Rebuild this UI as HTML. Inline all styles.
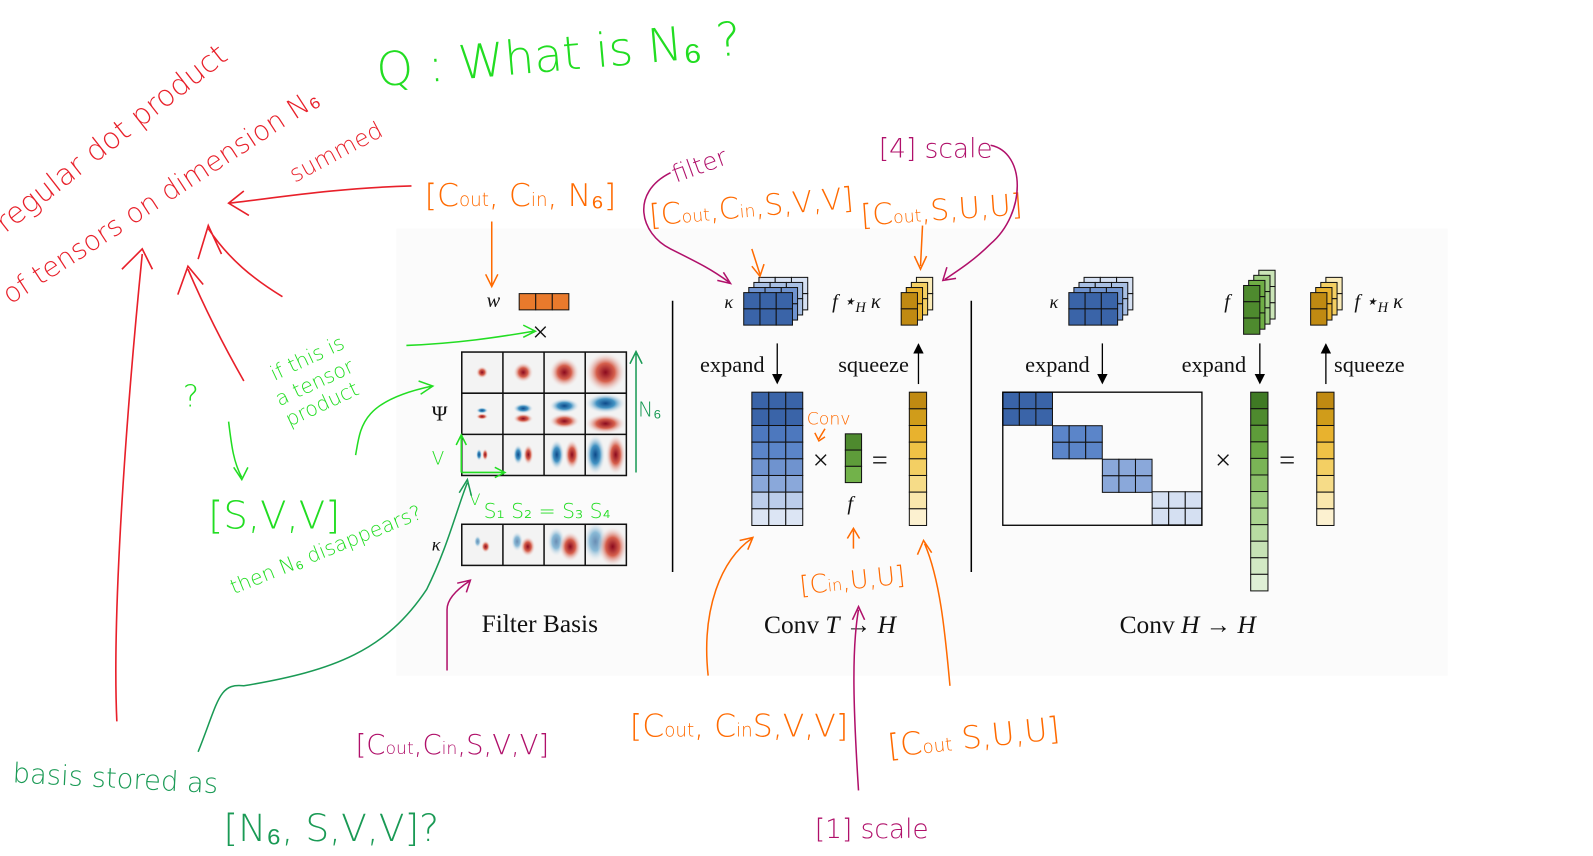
<!DOCTYPE html>
<html><head><meta charset="utf-8"><style>
html,body{margin:0;padding:0;background:#fff;width:1593px;height:856px;overflow:hidden}
svg{display:block}
.hw{font-family:"DejaVu Sans",sans-serif;font-weight:300}
.ser{font-family:"Liberation Serif",serif;fill:#111}
</style></head><body>
<svg id="s" width="1593" height="856" viewBox="0 0 1593 856" xmlns="http://www.w3.org/2000/svg">
<defs>
<radialGradient id="rd"><stop offset="0" stop-color="#8b0a1e"/><stop offset="0.45" stop-color="#d6604d"/><stop offset="1" stop-color="#f4f4f4" stop-opacity="0"/></radialGradient>
<radialGradient id="bl"><stop offset="0" stop-color="#0d4a8a"/><stop offset="0.45" stop-color="#4393c3"/><stop offset="1" stop-color="#f4f4f4" stop-opacity="0"/></radialGradient>
<marker id="ah" markerWidth="8" markerHeight="8" refX="7" refY="4" orient="auto"><path d="M0,0 L8,4 L0,8 z" fill="#000"/></marker>
</defs>
<g transform="scale(1.016)">
<rect x="390" y="225" width="1035" height="440" fill="#fbfbfb"/>
<g id="g"></g>
<text class="ser" x="479" y="302" font-size="20" font-style="italic">w</text>
<text class="ser" x="524" y="336" font-size="28">×</text>
<text class="ser" x="425" y="414" font-size="21">Ψ</text>
<text class="ser" x="425" y="542" font-size="18" font-style="italic">κ</text>
<text class="ser" x="474" y="622" font-size="25">Filter Basis</text>
<text class="ser" x="713" y="303" font-size="18" font-style="italic">κ</text>
<text class="ser" x="819" y="303" font-size="20" font-style="italic">f ⋆<tspan font-size="14" dy="4">H</tspan><tspan dy="-4"> κ</tspan></text>
<text class="ser" x="689" y="366" font-size="22">expand</text>
<text class="ser" x="825" y="366" font-size="22">squeeze</text>
<text class="ser" x="800" y="462" font-size="28">×</text>
<text class="ser" x="858" y="462" font-size="28">=</text>
<text class="ser" x="834" y="502" font-size="20" font-style="italic">f</text>
<text class="ser" x="752" y="623" font-size="25">Conv <tspan font-style="italic">T</tspan> → <tspan font-style="italic">H</tspan></text>
<text class="ser" x="1033" y="303" font-size="18" font-style="italic">κ</text>
<text class="ser" x="1205" y="303" font-size="20" font-style="italic">f</text>
<text class="ser" x="1333" y="303" font-size="20" font-style="italic">f ⋆<tspan font-size="14" dy="4">H</tspan><tspan dy="-4"> κ</tspan></text>
<text class="ser" x="1009" y="366" font-size="22">expand</text>
<text class="ser" x="1163" y="366" font-size="22">expand</text>
<text class="ser" x="1313" y="366" font-size="22">squeeze</text>
<text class="ser" x="1196" y="462" font-size="28">×</text>
<text class="ser" x="1259" y="462" font-size="28">=</text>
<text class="ser" x="1102" y="623" font-size="25">Conv <tspan font-style="italic">H</tspan> → <tspan font-style="italic">H</tspan></text>
<line x1="662" y1="296" x2="662" y2="563" stroke="#000" stroke-width="1.5"/>
<line x1="956" y1="296" x2="956" y2="563" stroke="#000" stroke-width="1.5"/>
<line x1="765" y1="338" x2="765" y2="377" stroke="#000" stroke-width="1.3" marker-end="url(#ah)"/>
<line x1="904" y1="378" x2="904" y2="339" stroke="#000" stroke-width="1.3" marker-end="url(#ah)"/>
<line x1="1085" y1="338" x2="1085" y2="377" stroke="#000" stroke-width="1.3" marker-end="url(#ah)"/>
<line x1="1240" y1="338" x2="1240" y2="377" stroke="#000" stroke-width="1.3" marker-end="url(#ah)"/>
<line x1="1305" y1="378" x2="1305" y2="339" stroke="#000" stroke-width="1.3" marker-end="url(#ah)"/>
<rect x="987" y="386" width="196" height="131" fill="none" stroke="#000" stroke-width="1.3"/>

<g class="hw" fill="#e8202a">
<text x="5" y="230" font-size="29" transform="rotate(-38 5 230)">regular dot product</text>
<text x="10" y="300" font-size="27" transform="rotate(-33 10 300)">of tensors on dimension N₆</text>
<text x="290" y="180" font-size="23" transform="rotate(-28 290 180)">summed</text>
</g>
<g fill="none" stroke="#e8202a" stroke-width="1.6">
<path d="M405,183 C330,185 270,195 225,200 M240,188 L225,200 L245,212"/>
<path d="M115,710 C110,600 125,400 140,250 M120,265 L140,245 L150,265"/>
<path d="M240,375 C220,340 200,300 185,265 M175,290 L185,262 L200,280"/>
<path d="M278,292 C250,275 225,255 205,225 M195,255 L205,222 L218,250"/>
</g>
<g class="hw" fill="#22dd22">
<text x="372" y="85" font-size="46" transform="rotate(-5 372 85)">Q : What is N₆ ?</text>
<text x="270" y="375" font-size="20" transform="rotate(-25 270 375)">if this is</text>
<text x="275" y="400" font-size="20" transform="rotate(-25 275 400)">a tensor</text>
<text x="285" y="420" font-size="20" transform="rotate(-25 285 420)">product</text>
<text x="180" y="400" font-size="30">?</text>
<text x="205" y="520" font-size="38">[S,V,V]</text>
<text x="230" y="585" font-size="20" transform="rotate(-22 230 585)">then N₆ disappears?</text>
<text x="425" y="457" font-size="18">V</text>
<text x="462" y="497" font-size="16">V</text>
<text x="476" y="510" font-size="20">S₁ S₂ = S₃ S₄</text>
</g>
<g fill="none" stroke="#22dd22" stroke-width="1.5">
<path d="M400,340 C450,338 490,332 525,326 M515,320 L527,326 L515,332"/>
<path d="M350,448 C355,420 355,395 425,380 M412,375 L426,380 L414,388"/>
<path d="M225,415 C228,440 230,455 238,470 M230,460 L238,472 L244,460"/>
<path d="M454,465 L454,430 M449,438 L454,428 L459,438 M454,465 L495,465 M487,460 L497,465 L487,470"/>
</g>
<g class="hw" fill="#1a9a55">
<text x="12" y="770" font-size="27" transform="rotate(3 12 770)">basis stored as</text>
<text x="220" y="828" font-size="37">[N₆, S,V,V]?</text>
<text x="628" y="410" font-size="20">N₆</text>
</g>
<g fill="none" stroke="#1a9a55" stroke-width="1.5">
<path d="M195,740 C215,690 215,672 240,675 C330,660 380,640 420,580 C440,540 450,500 460,475 M452,485 L460,472 L464,488"/>
<path d="M626,465 L626,348 M620,358 L626,346 L632,358"/>
</g>
<g class="hw" fill="#ff6a00">
<text x="418" y="203" font-size="31">[C<tspan font-size="18">out</tspan>, C<tspan font-size="18">in</tspan>, N₆]</text>
<text x="640" y="222" font-size="29" transform="rotate(-5 640 222)">[C<tspan font-size="17">out</tspan>,C<tspan font-size="17">in</tspan>,S,V,V]</text>
<text x="848" y="222" font-size="29" transform="rotate(-4 848 222)">[C<tspan font-size="17">out</tspan>,S,U,U]</text>
<text x="794" y="418" font-size="17">Conv</text>
<text x="788" y="585" font-size="25" transform="rotate(-6 788 585)">[C<tspan font-size="16">in</tspan>,U,U]</text>
<text x="620" y="725" font-size="31">[C<tspan font-size="18">out</tspan>, C<tspan font-size="18">in</tspan>S,V,V]</text>
<text x="875" y="745" font-size="31" transform="rotate(-6 875 745)">[C<tspan font-size="18">out</tspan> S,U,U]</text>
</g>
<g fill="none" stroke="#ff6a00" stroke-width="1.5">
<path d="M484,218 L484,280 M478,270 L484,282 L490,270"/>
<path d="M740,245 L748,270 M740,262 L748,272 L752,260"/>
<path d="M908,222 L906,262 M900,252 L906,265 L912,252"/>
<path d="M697,665 C690,600 710,550 740,530 M728,532 L741,529 L736,541"/>
<path d="M935,675 C930,620 925,570 910,535 M903,546 L909,532 L917,544"/>
<path d="M840,540 L840,522 M834,530 L840,520 L846,530"/>
<path d="M812,422 L806,432 M802,426 L806,434 L812,430"/>
</g>
<g class="hw" fill="#b0106a">
<text x="665" y="180" font-size="24" transform="rotate(-20 665 180)">filter</text>
<text x="865" y="155" font-size="26">[4] scale</text>
<text x="350" y="742" font-size="27">[C<tspan font-size="17">out</tspan>,C<tspan font-size="17">in</tspan>,S,V,V]</text>
<text x="802" y="825" font-size="26">[1] scale</text>
</g>
<g fill="none" stroke="#b0106a" stroke-width="1.5">
<path d="M660,170 C620,190 630,230 660,245 C690,260 700,265 718,278 M706,276 L719,279 L712,268"/>
<path d="M975,143 C1010,150 1010,210 975,240 C960,255 945,265 930,275 M932,263 L928,276 L941,274"/>
<path d="M440,660 L440,600 C440,590 450,580 462,572 M450,574 L463,571 L459,583"/>
<path d="M845,778 C840,700 838,640 845,600 M839,610 L845,597 L851,610"/>
</g>
</g>
</svg>
<script>
const NS="http://www.w3.org/2000/svg",g=document.getElementById('g');
function el(t,a){const e=document.createElementNS(NS,t);for(const k in a)e.setAttribute(k,a[k]);g.appendChild(e);return e;}
function grid(x,y,cols,rows,w,h,fills){for(let r=0;r<rows;r++)for(let c=0;c<cols;c++){const f=typeof fills=='function'?fills(r,c):fills;el('rect',{x:x+c*w,y:y+r*h,width:w,height:h,fill:f,stroke:'#111','stroke-width':1});}}
grid(511,289,3,1,16.3,16,'#e97a2c');
const cw=40.5,cx=[454.5,495,535.5,576],ry=[346.5,387,427.5],ky=516;
const sz=[6,10,15,20];
for(let r=0;r<3;r++)for(let c=0;c<4;c++){const x=cx[c],y=ry[r];el('rect',{x:x,y:y,width:cw,height:cw,fill:'#f3f3f3'});const s=sz[c];
 if(r==0){el('ellipse',{cx:x+20,cy:y+20,rx:s,ry:s,fill:'url(#rd)'});}
 else if(r==1){el('ellipse',{cx:x+20,cy:y+20-s*0.5,rx:s,ry:s*0.5,fill:'url(#bl)'});el('ellipse',{cx:x+20,cy:y+20+s*0.5,rx:s,ry:s*0.5,fill:'url(#rd)'});}
 else{el('ellipse',{cx:x+20-s*0.5,cy:y+20,rx:s*0.5,ry:s,fill:'url(#bl)'});el('ellipse',{cx:x+20+s*0.5,cy:y+20,rx:s*0.5,ry:s,fill:'url(#rd)'});}}
for(let c=0;c<4;c++){const x=cx[c],y=ky,s=sz[c];el('rect',{x:x,y:y,width:cw,height:cw,fill:'#f3f3f3'});el('ellipse',{cx:x+18-s*0.4,cy:y+17,rx:s*0.6,ry:s,fill:'url(#bl)',opacity:0.6});el('ellipse',{cx:x+22+s*0.25,cy:y+22,rx:s*0.75,ry:s,fill:'url(#rd)'});}
[[454.5,346.5,162,121.5],[454.5,ky,162,40.5]].forEach(b=>{el('rect',{x:b[0],y:b[1],width:b[2],height:b[3],fill:'none',stroke:'#111','stroke-width':1.5});});
for(let c=1;c<4;c++){el('line',{x1:cx[c],y1:346.5,x2:cx[c],y2:468,stroke:'#111','stroke-width':1.5});el('line',{x1:cx[c],y1:ky,x2:cx[c],y2:ky+40.5,stroke:'#111','stroke-width':1.5});}
for(let r=1;r<3;r++)el('line',{x1:454.5,y1:ry[r],x2:616.5,y2:ry[r],stroke:'#111','stroke-width':1.5});
function stack(x,y,cols,rows,w,h,cols2,n,dx,dy){for(let i=n-1;i>=0;i--)grid(x+i*dx,y-i*dy,cols,rows,w,h,cols2[i]);}
const blues=['#3a64a8','#6f93cf','#a8bfe3','#d5e0f2'];
stack(732,288,3,2,16,16,blues,4,5,5);
stack(1052,288,3,2,16,16,blues,4,5,5);
const ys=['#c08a12','#e8b22e','#f3cf63','#faebb8'];
stack(887,288,1,2,16,16,ys,4,5,5);
stack(1290,288,1,2,16,16,ys,4,5,5);
const gs=['#4e8a2e','#6fae45','#9ccc7f','#cbe5b8'];
stack(1224,281,1,3,16,16,gs,4,5,5);
const bm=['#3a64a8','#3a64a8','#4d78be','#5b85c9','#6f93cf','#8aa8da','#bccdea','#dce5f4'];
grid(740,386,3,8,16.7,16.4,(r,c)=>bm[r]);
grid(832,427,1,3,16,16,(r)=>['#4e8a2e','#5e9c3a','#72b24a'][r]);
const yv=['#c08a12','#d09c1a','#e8b22e','#efc246','#f3cf63','#f6dc88','#f9e7ad','#fcf1d0'];
grid(895,386,1,8,17,16.4,(r)=>yv[r]);
grid(1296,386,1,8,17,16.4,(r)=>yv[r]);
grid(987,386,3,2,16.3,16.3,'#3a64a8');
grid(1036,419,3,2,16.3,16.3,'#5b85c9');
grid(1085,452,3,2,16.3,16.3,'#8aa8da');
grid(1134,484,3,2,16.3,16.3,'#d5e0f2');
const gv=['#3f7a24','#4e8a2e','#5e9c3a','#6aa844','#7ab456','#8cc06a','#9ccc7f','#aad48f','#b8dba2','#c6e2b5','#d2e9c4','#dff0d5'];
grid(1231,386,1,12,17,16.3,(r)=>gv[r]);
</script>
</body></html>
